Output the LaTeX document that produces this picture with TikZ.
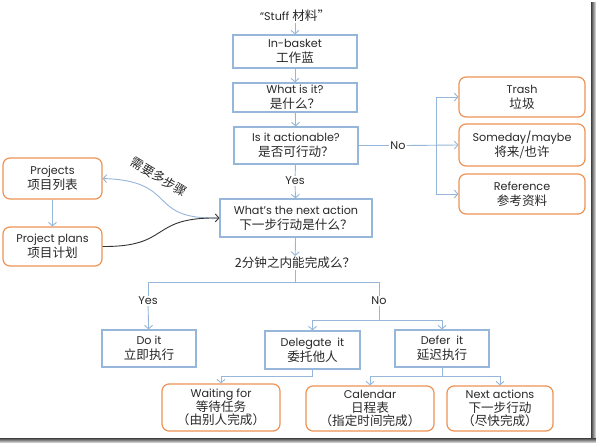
\documentclass[tikz,border=0pt]{standalone}
\usepackage{fontspec}
\setmainfont{Poppins}
\newfontfamily\cjk{Noto Sans CJK SC}
\newcommand{\cn}[1]{{\cjk\fontsize{12.6}{15}\selectfont #1}}
\usetikzlibrary{arrows.meta,positioning,calc}
\definecolor{boxblue}{RGB}{150,182,218}
\definecolor{boxorange}{RGB}{238,146,86}
\definecolor{txt}{RGB}{40,40,40}
\begin{document}
\begin{tikzpicture}[x=1pt,y=-1pt,
  every node/.style={text=txt,font=\fontsize{11.2}{15}\selectfont},
  bbox/.style={draw=boxblue,line width=1.2pt,align=center,inner sep=0pt},
  obox/.style={draw=boxorange,line width=1.2pt,rounded corners=7pt,align=center,inner sep=0pt},
  lbl/.style={inner sep=1pt},
  ln/.style={draw=boxblue,line width=0.9pt},
  arr/.style={draw=boxblue,line width=0.9pt,-{Straight Barb[length=3.5pt,width=8pt]}},
  cj/.style={font=\cjk\fontsize{12.6}{15}\selectfont}
]
\useasboundingbox (0,0) rectangle (596,443);
\fill[white] (0,0) rectangle (596,443);
% shadow of frame
\shade[left color=black!75,right color=gray!15] (591,3) rectangle (596,443);
\shade[top color=black!75,bottom color=gray!15] (0,438) rectangle (596,443);

% nodes
\node[lbl] (stuff) at (295,16) {“Stuff \cn{材料”}};
\node[bbox,minimum width=124pt,minimum height=33pt] (inb) at (295,51.5) {In-basket\\\cn{工作蓝}};
\node[bbox,minimum width=124pt,minimum height=29pt] (what) at (295,97.5) {What is it?\\\cn{是什么？}};
\node[bbox,minimum width=124pt,minimum height=37pt] (act) at (296,145.5) {Is it actionable?\\\cn{是否可行动？}};
\node[obox,minimum width=126pt,minimum height=40pt] (trash) at (522,97) {Trash\\\cn{垃圾}};
\node[obox,minimum width=126pt,minimum height=42pt] (some) at (522,145) {Someday/maybe\\\cn{将来/也许}};
\node[obox,minimum width=126pt,minimum height=40pt] (ref) at (522,194) {Reference\\\cn{参考资料}};
\node[lbl] (yes1) at (295,181) {Yes};
\node[lbl] (no1) at (398,145.5) {No};
\node[bbox,minimum width=152pt,minimum height=38pt] (next) at (296,218) {What’s the next action\\\cn{下一步行动是什么？}};
\node[obox,minimum width=99pt,minimum height=41pt] (proj) at (52.5,178.5) {Projects\\\cn{项目列表}};
\node[obox,minimum width=99pt,minimum height=39pt] (plans) at (52.5,246.5) {Project plans\\\cn{项目计划}};
\node[lbl,cj] (q2) at (295,263) {2分钟之内能完成么？};
\node[lbl] (yes2) at (148,301) {Yes};
\node[lbl] (no2) at (379,301) {No};
\node[bbox,minimum width=94pt,minimum height=37pt] (doit) at (149,348.5) {Do it\\\cn{立即执行}};
\node[bbox,minimum width=95pt,minimum height=38pt] (dele) at (312.5,350) {Delegate\ \ it\\\cn{委托他人}};
\node[bbox,minimum width=94pt,minimum height=37pt] (defer) at (442,348.5) {Defer\ \ it\\\cn{延迟执行}};
\node[obox,minimum width=118pt,minimum height=47pt] (wait) at (221,407.5) {Waiting for\\[-1.5pt]\cn{等待任务}\\[-1.5pt]\cn{（由别人完成）}};
\node[obox,minimum width=128pt,minimum height=45pt] (cal) at (370,408.5) {Calendar\\[-1.5pt]\cn{日程表}\\[-1.5pt]\cn{（指定时间完成）}};
\node[obox,minimum width=106pt,minimum height=45pt] (nacts) at (500,408.5) {Next actions\\[-1.5pt]\cn{下一步行动}\\[-1.5pt]\cn{（尽快完成）}};
\node[inner sep=0pt,cj,rotate=-31] (multi) at (159,177) {需要多步骤};

% connectors
\draw[arr] (stuff) -- (inb);
\draw[arr] (inb) -- (what);
\draw[arr] (what) -- (act);
\draw[ln] (act) -- (yes1);
\draw[arr] (yes1) -- (next);
\draw[ln] (act.east) -- (no1.west);
\draw[arr] (no1.east) -- (some.west);
\coordinate (nb) at (436,145.5);
\draw[arr] (nb) |- (trash.west);
\draw[arr] (nb) |- (ref.west);
\draw[arr] (next) -- (q2);
\coordinate (s2) at (295,282);
\draw[ln] (q2) -- (s2);
\draw[ln] (s2) -| (yes2);
\draw[ln] (s2) -| (no2);
\draw[arr] (yes2) -- (doit);
\coordinate (s3) at (379,320);
\draw[ln] (no2) -- (s3);
\draw[arr] (s3) -| (dele.north);
\draw[arr] (s3) -| (defer.north);
\coordinate (s4) at (312.5,376);
\draw[ln] (dele) -- (s4);
\draw[arr] (s4) -| (wait.north);
\coordinate (s5) at (442,376);
\draw[ln] (defer) -- (s5);
\draw[arr] (s5) -| (cal.north);
\draw[arr] (s5) -| (nacts.north);
\draw[arr] (proj) -- (plans);
\draw[arr] (next.west) .. controls (145,220) and (180,181) .. (proj.east);
\draw[black!80,line width=0.9pt,-{Straight Barb[length=3.5pt,width=8pt]}] (plans.east) .. controls (172,247) and (148,217) .. (next.west);
\end{tikzpicture}
\end{document}
